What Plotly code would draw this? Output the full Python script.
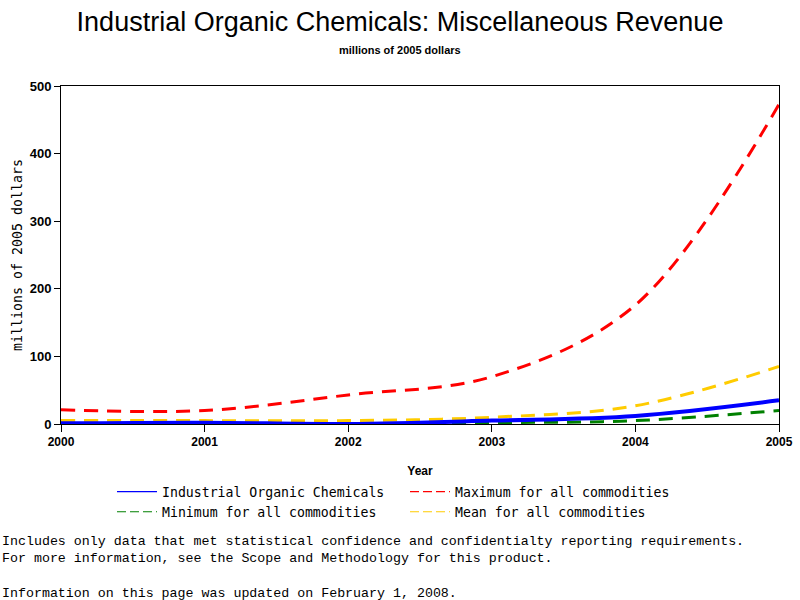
import plotly.graph_objects as go

years = [2000, 2001, 2002, 2003, 2004, 2005]
industrial = [1, 2, 0, 5, 12, 35]
maximum = [21, 20, 43, 70, 176, 473]
minimum = [0, 0, 0, 2, 5, 20]
mean = [5, 5, 5, 10, 27, 85]

series = [
    ("Industrial Organic Chemicals", industrial, "#0000FF", "solid", 4),
    ("Maximum for all commodities", maximum, "#FF0000", "14px,9px", 3),
    ("Minimum for all commodities", minimum, "#008000", "14px,9px", 3),
    ("Mean for all commodities", mean, "#FFCC00", "14px,9px", 3),
]

fig = go.Figure()
for name, vals, color, dash, w in [series[1], series[3], series[2], series[0]]:
    fig.add_trace(go.Scatter(x=years, y=vals, mode="lines", name=name,
                             line=dict(color=color, width=w, dash=dash, shape="spline", smoothing=1),
                             showlegend=False, hoverinfo="skip"))
for name, vals, color, dash, w in series:
    fig.add_trace(go.Scatter(x=[None], y=[None], mode="lines", name=name,
                             line=dict(color=color, width=1.2,
                                       dash="solid" if dash == "solid" else "9px,4px")))

mono = "DejaVu Sans Mono"
PL, PT, PW, PH = 61, 86, 718, 338


def px_x(x):
    return (x - PL) / PW


def px_y(y):
    return (PT + PH - y) / PH


fig.update_layout(
    width=800, height=600,
    paper_bgcolor="white", plot_bgcolor="white",
    margin=dict(l=PL, r=800 - PL - PW, t=PT, b=600 - PT - PH),
    title=dict(text="Industrial Organic Chemicals: Miscellaneous Revenue",
               x=0.5, xref="container", xanchor="center", y=1 - 22 / 600, yanchor="middle",
               font=dict(family="Liberation Sans", size=27, color="black")),
    xaxis=dict(range=[2000, 2005], tickvals=years, ticktext=[str(y) for y in years],
               showgrid=False, zeroline=False, showline=True, linecolor="black", linewidth=1,
               mirror=True, ticks="outside", ticklen=7, tickcolor="black", automargin=False,
               tickfont=dict(family="Liberation Sans", size=12, color="black", weight="bold"),
               title=dict(text="Year", font=dict(family="Liberation Sans", size=12, color="black", weight="bold"),
                          standoff=18)),
    yaxis=dict(range=[0, 500], tickvals=[0, 100, 200, 300, 400, 500],
               showgrid=False, zeroline=False, showline=True, linecolor="black", linewidth=1,
               mirror=True, ticks="outside", ticklen=6, tickcolor="black", automargin=False,
               tickfont=dict(family="Liberation Sans", size=13, color="black", weight="bold"),
               title=dict(text="millions of 2005 dollars", font=dict(family=mono, size=13.3, color="black"),
                          standoff=4)),
    legend=dict(orientation="h", x=px_x(112), y=px_y(502), xanchor="left", yanchor="middle",
                entrywidth=238, entrywidthmode="pixels", itemwidth=40,
                traceorder="normal", font=dict(family=mono, size=13.2, color="black"),
                bgcolor="rgba(0,0,0,0)", borderwidth=0, tracegroupgap=0),
)

fig.add_annotation(text="<b>millions of 2005 dollars</b>", xref="paper", yref="paper",
                   x=px_x(400), y=px_y(50), xanchor="center", yanchor="middle", showarrow=False,
                   font=dict(family="Liberation Sans", size=11, color="black"))

foot_lines = [
    "Includes only data that met statistical confidence and confidentialty reporting requirements.",
    "For more information, see the Scope and Methodology for this product.",
]
foot_updated = "Information on this page was updated on February 1, 2008."

fig.add_annotation(text="<br>".join(foot_lines), xref="paper", yref="paper",
                   x=px_x(0), y=px_y(549.5), xanchor="left", yanchor="middle", align="left",
                   showarrow=False, font=dict(family="Liberation Mono", size=13.3, color="black"))
fig.add_annotation(text=foot_updated, xref="paper", yref="paper",
                   x=px_x(0), y=px_y(593), xanchor="left", yanchor="middle", align="left",
                   showarrow=False, font=dict(family="Liberation Mono", size=13.3, color="black"))

fig.write_html("out.html", config={"displayModeBar": False},
               post_script="document.body.style.margin='0';document.body.style.padding='0';")
